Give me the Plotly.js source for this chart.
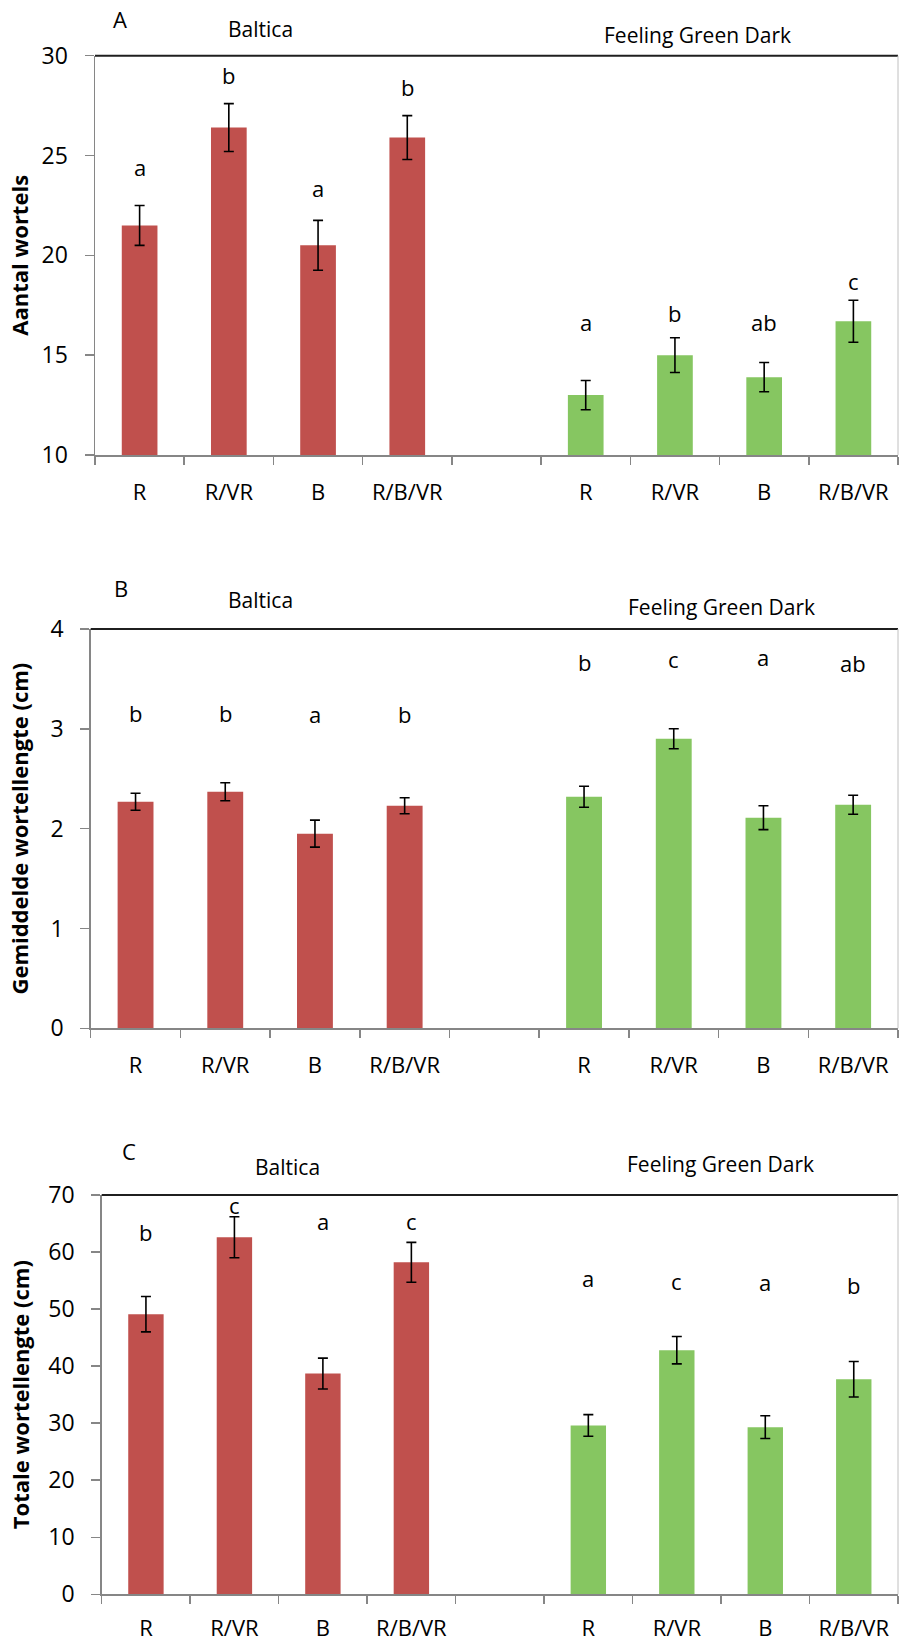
<!DOCTYPE html>
<html>
<head>
<meta charset="utf-8">
<script src="https://cdn.plot.ly/plotly-3.0.1.min.js"></script>
<style>
  html, body { margin: 0; padding: 0; background: #fff; }
  #chart { width: 899px; height: 1642px; }
</style>
</head>
<body>
<div id="chart"></div>
<script>
// ---- data ----
const treatments = ["R", "R/VR", "B", "R/B/VR"];
const cultivars = ["Baltica", "Feeling Green Dark"];
const panelLetters = ["A", "B", "C"];
const yTitles = ["Aantal wortels", "Gemiddelde wortellengte (cm)", "Totale wortellengte (cm)"];

// Panel A: Aantal wortels
const aBaltica = [21.5, 26.4, 20.5, 25.9];
const aBalticaErr = [1.0, 1.2, 1.25, 1.1];
const aGreen = [13.0, 15.0, 13.9, 16.7];
const aGreenErr = [0.73, 0.87, 0.73, 1.05];
const aBalticaSig = ["a", "b", "a", "b"];
const aGreenSig = ["a", "b", "ab", "c"];
const aBalticaSigY = [24.45, 29.05, 23.35, 28.45];
const aGreenSigY = [16.65, 17.1, 16.65, 18.72];

// Panel B: Gemiddelde wortellengte (cm)
const bBaltica = [2.27, 2.37, 1.95, 2.23];
const bBalticaErr = [0.085, 0.09, 0.135, 0.08];
const bGreen = [2.32, 2.90, 2.11, 2.24];
const bGreenErr = [0.105, 0.1, 0.12, 0.095];
const bBalticaSig = ["b", "b", "a", "b"];
const bGreenSig = ["b", "c", "a", "ab"];
const bBalticaSigY = [3.16, 3.16, 3.15, 3.15];
const bGreenSigY = [3.67, 3.70, 3.72, 3.66];

// Panel C: Totale wortellengte (cm)
const cBaltica = [49.1, 62.6, 38.7, 58.2];
const cBalticaErr = [3.1, 3.6, 2.7, 3.5];
const cGreen = [29.6, 42.8, 29.3, 37.7];
const cGreenErr = [1.9, 2.4, 2.0, 3.1];
const cBalticaSig = ["b", "c", "a", "c"];
const cGreenSig = ["a", "c", "a", "b"];
const cBalticaSigY = [63.6, 68.2, 65.5, 65.4];
const cGreenSigY = [55.45, 55.0, 54.75, 54.3];

// ---- styling ----
const RED = "#C0504D";
const GREEN = "#86C661";
const FONT = "Open Sans, Noto Sans, DejaVu Sans, sans-serif";
const AXIS_GREY = "#868686";
const gap = 1; // one empty slot between the two cultivars

const balticaX = treatments.map((t, i) => i);
const greenX = treatments.map((t, i) => i + treatments.length + gap);
const allTickVals = balticaX.concat(greenX);
const allTickText = treatments.concat(treatments);

const panels = [
  { bal: aBaltica, balErr: aBalticaErr, gr: aGreen, grErr: aGreenErr,
    balSig: aBalticaSig, grSig: aGreenSig, balSigY: aBalticaSigY, grSigY: aGreenSigY,
    range: [10, 30], dtick: 5,
    xdom: [95/899, 898/899], ydom: [1 - 455/1642, 1 - 55.7/1642],
    letterPos: [120, 19], balPos: [260, 29], grPos: [697, 35], standoff: 7, xstand: 17 },
  { bal: bBaltica, balErr: bBalticaErr, gr: bGreen, grErr: bGreenErr,
    balSig: bBalticaSig, grSig: bGreenSig, balSigY: bBalticaSigY, grSigY: bGreenSigY,
    range: [0, 4], dtick: 1,
    xdom: [90.7/899, 898/899], ydom: [1 - 1028.3/1642, 1 - 629/1642],
    letterPos: [121, 588], balPos: [260, 600], grPos: [721, 607], standoff: 15, xstand: 17 },
  { bal: cBaltica, balErr: cBalticaErr, gr: cGreen, grErr: cGreenErr,
    balSig: cBalticaSig, grSig: cGreenSig, balSigY: cBalticaSigY, grSigY: cGreenSigY,
    range: [0, 70], dtick: 10,
    xdom: [101.7/899, 898/899], ydom: [1 - 1594.3/1642, 1 - 1195/1642],
    letterPos: [129, 1151], balPos: [287, 1167], grPos: [720, 1164], standoff: 12, xstand: 14 }
];

const traces = [];
const annotations = [];
const shapes = [];
const layout = {
  width: 899, height: 1642,
  margin: { l: 0, r: 0, t: 0, b: 0 },
  paper_bgcolor: "#ffffff",
  plot_bgcolor: "#ffffff",
  showlegend: false,
  font: { family: FONT, color: "#000000", size: 21 },
  annotations: annotations,
  shapes: shapes
};

panels.forEach((p, k) => {
  const sfx = k === 0 ? "" : String(k + 1);
  const xa = "x" + sfx, ya = "y" + sfx;
  const errStyle = { type: "data", visible: true, color: "#000000", thickness: 1.6, width: 5 };

  traces.push({
    type: "bar", x: balticaX, y: p.bal, name: cultivars[0],
    xaxis: xa, yaxis: ya, width: 0.4,
    marker: { color: RED, line: { width: 0 } },
    error_y: Object.assign({ array: p.balErr }, errStyle),
    hoverinfo: "y"
  });
  traces.push({
    type: "bar", x: greenX, y: p.gr, name: cultivars[1],
    xaxis: xa, yaxis: ya, width: 0.4,
    marker: { color: GREEN, line: { width: 0 } },
    error_y: Object.assign({ array: p.grErr }, errStyle),
    hoverinfo: "y"
  });

  layout["xaxis" + sfx] = {
    domain: p.xdom, anchor: ya,
    range: [-0.5, allTickVals[allTickVals.length - 1] + 0.5],
    tickmode: "array", tickvals: allTickVals, ticktext: allTickText,
    ticks: "", ticklabelstandoff: p.xstand,
    tickfont: { family: FONT, size: 22, color: "#000000" },
    showline: true, linecolor: AXIS_GREY, linewidth: 1.5,
    showgrid: false, zeroline: false, fixedrange: true,
    minor: { tickmode: "linear", tick0: -0.5, dtick: 1, ticks: "outside",
             ticklen: 8, tickwidth: 1.5, tickcolor: AXIS_GREY, showgrid: false }
  };
  layout["yaxis" + sfx] = {
    domain: p.ydom, anchor: xa,
    range: p.range, dtick: p.dtick, tick0: 0,
    ticks: "outside", ticklen: 9, tickwidth: 1.5, tickcolor: AXIS_GREY,
    ticklabelstandoff: 12,
    tickfont: { family: FONT, size: 23, color: "#000000" },
    showline: true, linecolor: AXIS_GREY, linewidth: 1.5,
    showgrid: false, zeroline: false, fixedrange: true,
    title: { text: yTitles[k], standoff: p.standoff,
             font: { family: FONT, size: 22, color: "#000000", weight: "bold" } }
  };

  // plot area border: dark top edge, light right edge
  shapes.push({ type: "line", xref: xa + " domain", yref: ya + " domain",
    x0: 0, x1: 1, y0: 1, y1: 1, line: { color: "#1f1f1f", width: 2 } });
  shapes.push({ type: "line", xref: xa + " domain", yref: ya + " domain",
    x0: 1, x1: 1, y0: 0, y1: 1, line: { color: "#c0c0c0", width: 1 } });

  // significance letters
  p.balSig.forEach((s, i) => annotations.push({
    x: balticaX[i], y: p.balSigY[i], xref: xa, yref: ya, text: s,
    showarrow: false, xanchor: "center", yanchor: "middle",
    font: { family: FONT, size: 22, color: "#000000" }
  }));
  p.grSig.forEach((s, i) => annotations.push({
    x: greenX[i], y: p.grSigY[i], xref: xa, yref: ya, text: s,
    showarrow: false, xanchor: "center", yanchor: "middle",
    font: { family: FONT, size: 22, color: "#000000" }
  }));

  // panel letter and cultivar headings
  const px = v => v / 899, py = v => 1 - v / 1642;
  annotations.push({ x: px(p.letterPos[0]), y: py(p.letterPos[1]), xref: "paper", yref: "paper",
    text: panelLetters[k], showarrow: false, xanchor: "center", yanchor: "middle",
    font: { family: FONT, size: 22, color: "#000000" } });
  annotations.push({ x: px(p.balPos[0]), y: py(p.balPos[1]), xref: "paper", yref: "paper",
    text: cultivars[0], showarrow: false, xanchor: "center", yanchor: "middle",
    font: { family: FONT, size: 21, color: "#000000" } });
  annotations.push({ x: px(p.grPos[0]), y: py(p.grPos[1]), xref: "paper", yref: "paper",
    text: cultivars[1], showarrow: false, xanchor: "center", yanchor: "middle",
    font: { family: FONT, size: 21, color: "#000000" } });
});

Plotly.newPlot("chart", traces, layout, { displayModeBar: false, staticPlot: true });
</script>
</body>
</html>
